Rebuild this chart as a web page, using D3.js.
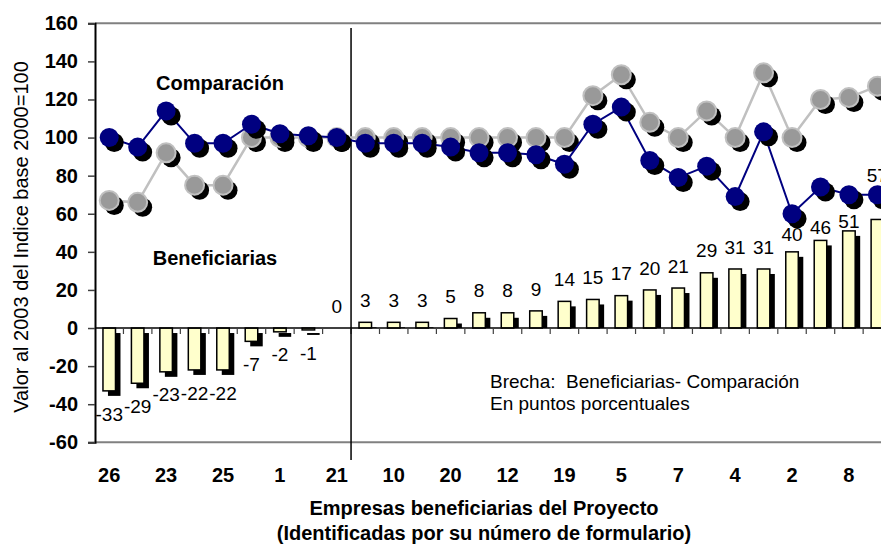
<!DOCTYPE html>
<html><head><meta charset="utf-8">
<script src="https://cdn.jsdelivr.net/npm/d3@7"></script>
<style>body{margin:0;background:#fff}svg{display:block;font-family:Arial,"Liberation Sans",sans-serif}</style>
</head><body><svg id="c" width="881" height="545"></svg>
<script>
// Company form numbers (only every second one is labelled in the source)
const empresas = ["26","","23","","25","","1","","21","","10","","20","","12","","19","","5","","7","","4","","2","","8",""];
// Index 2003 (base 2000=100)
const beneficiarias = [67,66,92,75,75,100,100,100,100,100,100,100,100,100,100,100,100,122,133,108,100,114,100,134,100,120,121,127];
const comparacion   = [100,95,114,97,97,107,102,101,100,97,97,97,95,92,92,91,86,107,116,88,79,85,69,103,60,74,70,70];
// Gap Beneficiarias - Comparación (percentage points)
const brecha = [-33,-29,-23,-22,-22,-7,-2,-1,0,3,3,3,5,8,8,9,14,15,17,20,21,29,31,31,40,46,51,57];
const yTicks = [-60,-40,-20,0,20,40,60,80,100,120,140,160];

(function () {
const svg = d3.select("#c");
const W = 881;
const pLeft = 95, pTop = 23.3, pBottom = 442.3, step = 28.45;
const idx = d3.range(empresas.length);
const x = d3.scaleBand().domain(idx).range([pLeft, pLeft + step * idx.length]).padding(0);
const y = d3.scaleLinear().domain([-60, 160]).range([pBottom, pTop]);
const cx = i => x(i) + x.bandwidth() / 2;
const fmt = d => String(Math.round(d));

// plot border top & bottom (gray)
svg.append("line").attr("x1", pLeft).attr("x2", W).attr("y1", y(160)).attr("y2", y(160)).attr("stroke", "#808080").attr("stroke-width", 2);
svg.append("line").attr("x1", pLeft).attr("x2", W).attr("y1", y(-60)).attr("y2", y(-60)).attr("stroke", "#808080").attr("stroke-width", 2);

// y axis
const yAxis = d3.axisLeft(y).tickValues(yTicks).tickSize(7).tickPadding(10).tickFormat(fmt);
const ya = svg.append("g").attr("transform", `translate(${pLeft},0)`).call(yAxis);
ya.select(".domain").attr("stroke", "#000").attr("stroke-width", 2);
ya.selectAll(".tick line").attr("stroke", "#404040").attr("stroke-width", 1.5);
ya.selectAll("text").attr("font-size", 20).attr("font-weight", "bold").attr("fill", "#000").attr("font-family", "Arial, 'Liberation Sans', sans-serif");

// bars: shadow + yellow
const bw = x.bandwidth() * 0.44;
const bx = i => cx(i) - bw / 2;
const gB = svg.append("g");
gB.selectAll("rect.sh").data(brecha).join("rect")
  .attr("x", (d, i) => bx(i) + 5).attr("width", bw)
  .attr("y", d => y(Math.max(d, 0)) + 5)
  .attr("height", d => d < 0 ? Math.abs(y(d) - y(0)) : Math.max(0, y(0) - y(d) - 5))
  .attr("fill", "#000");
gB.selectAll("rect.b").data(brecha).join("rect")
  .attr("x", (d, i) => bx(i)).attr("width", bw)
  .attr("y", d => y(Math.max(d, 0)))
  .attr("height", d => Math.abs(y(d) - y(0)))
  .attr("fill", "#FFFFCC").attr("stroke", "#000").attr("stroke-width", 1.5);

// category axis at zero
svg.append("line").attr("x1", pLeft).attr("x2", W).attr("y1", y(0)).attr("y2", y(0)).attr("stroke", "#000").attr("stroke-width", 1.5);
svg.append("g").selectAll("line").data(d3.range(1, idx.length + 1)).join("line")
  .attr("x1", i => pLeft + i * x.step()).attr("x2", i => pLeft + i * x.step())
  .attr("y1", y(0)).attr("y2", y(0) + 6).attr("stroke", "#404040").attr("stroke-width", 1.2);

// tick labels at bottom
const xAxis = d3.axisBottom(x).tickSize(0).tickPadding(0).tickFormat(i => empresas[i]);
const xa = svg.append("g").attr("transform", `translate(0,${pBottom + 25})`).call(xAxis);
xa.select(".domain").remove();
xa.selectAll("text").attr("font-size", 20).attr("font-weight", "bold").attr("fill", "#000").attr("dy", "0.71em")
  .attr("font-family", "Arial, 'Liberation Sans', sans-serif");

// vertical separator line
svg.append("line").attr("x1", pLeft + 9 * x.step()).attr("x2", pLeft + 9 * x.step())
  .attr("y1", 28).attr("y2", 460).attr("stroke", "#000").attr("stroke-width", 1.5);

// series
function series(vals, lineColor, lineW, fill, stroke) {
  const g = svg.append("g");
  const line = d3.line().x((d, i) => cx(i)).y(d => y(d));
  g.append("path").datum(vals).attr("d", line).attr("fill", "none").attr("stroke", lineColor).attr("stroke-width", lineW);
  g.selectAll("circle.s").data(vals).join("circle").attr("cx", (d, i) => cx(i) + 5).attr("cy", d => y(d) + 5).attr("r", 9.5).attr("fill", "#000");
  g.selectAll("circle.m").data(vals).join("circle").attr("cx", (d, i) => cx(i)).attr("cy", d => y(d)).attr("r", 9.5)
    .attr("fill", fill).attr("stroke", stroke).attr("stroke-width", stroke === "none" ? 0 : 2);
}
series(beneficiarias, "#C0C0C0", 2.5, "#999999", "#C0C0C0");
series(comparacion, "#000080", 2, "#000080", "none");

// value labels
const nudge = {24: 5, 25: 9, 26: 12, 27: -22};
svg.append("g").selectAll("text").data(brecha).join("text")
  .attr("x", (d, i) => cx(i))
  .attr("y", (d, i) => (d < 0 ? y(d) + 23 : y(d) - 22) + (nudge[i] || 0))
  .attr("dy", "0.35em").attr("text-anchor", "middle").attr("font-size", 19).attr("fill", "#000")
  .text(fmt);

// annotations
svg.append("text").attr("x", 220).attr("y", 90).attr("text-anchor", "middle").attr("font-size", 20).attr("font-weight", "bold").text("Comparación");
svg.append("text").attr("x", 215).attr("y", 265).attr("text-anchor", "middle").attr("font-size", 20).attr("font-weight", "bold").text("Beneficiarias");
svg.append("text").attr("x", 490).attr("y", 388).attr("font-size", 19).attr("xml:space", "preserve").text("Brecha:  Beneficiarias- Comparación");
svg.append("text").attr("x", 490).attr("y", 409.5).attr("font-size", 19).text("En puntos porcentuales");

// axis titles
svg.append("text").attr("transform", "translate(28,237) rotate(-90)").attr("text-anchor", "middle").attr("font-size", 20).text("Valor al 2003 del Indice base 2000=100");
svg.append("text").attr("x", 484).attr("y", 515).attr("text-anchor", "middle").attr("font-size", 20).attr("font-weight", "bold").text("Empresas beneficiarias del Proyecto");
svg.append("text").attr("x", 484).attr("y", 540).attr("text-anchor", "middle").attr("font-size", 20).attr("font-weight", "bold").text("(Identificadas por su número de formulario)");
})();
</script></body></html>
